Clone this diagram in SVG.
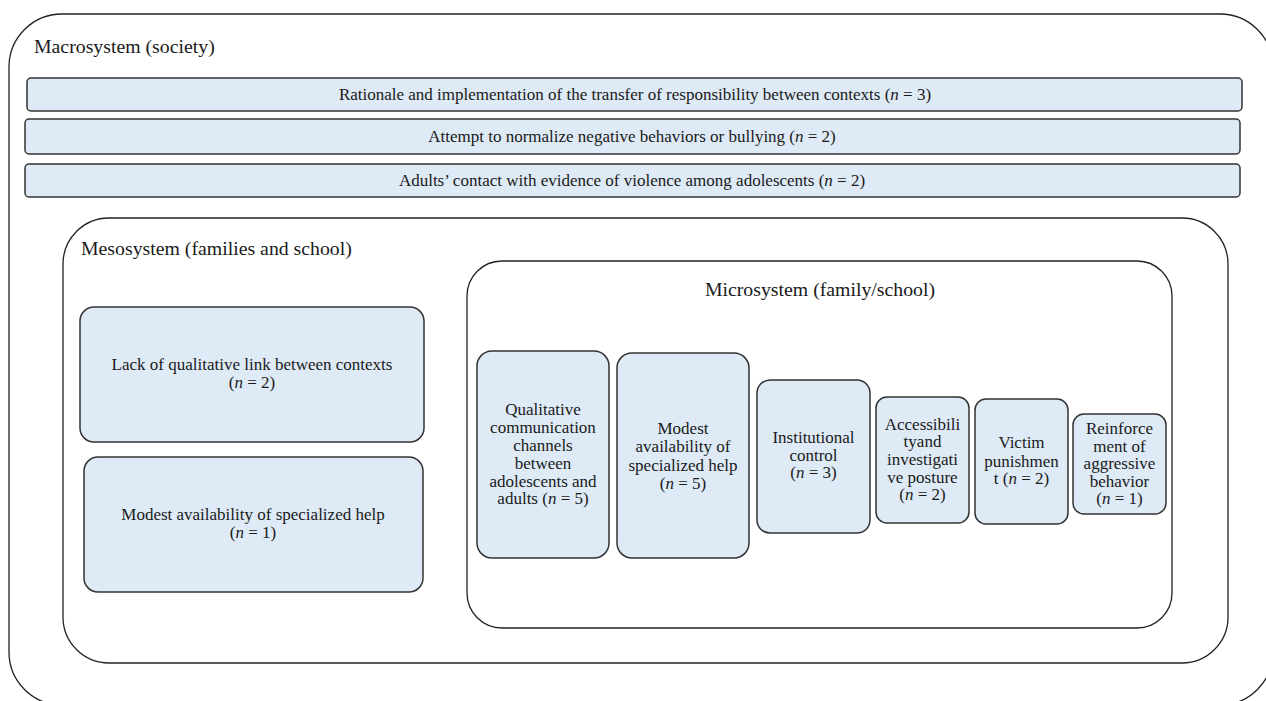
<svg xmlns="http://www.w3.org/2000/svg" width="1266" height="701" viewBox="0 0 1266 701">
<style>
  text { font-family: 'Liberation Serif', 'DejaVu Serif', serif; fill: #1a1a1a; }
  .frame { fill: none; stroke: #222; stroke-width: 1.3; }
  .box { fill: #deeaf6; stroke: #333; stroke-width: 1.5; }
  .lbl { font-size: 19.8px; }
  .row { font-size: 17px; text-anchor: middle; }
  .bt { font-size: 17px; text-anchor: middle; }
  .ttl { font-size: 19.8px; text-anchor: middle; }
  .i { font-style: italic; }
</style>
<rect width="1266" height="701" fill="#ffffff"/>
<g id="macrosystem">
  <rect class="frame" x="9" y="14" width="1264" height="691" rx="53"/>
  <text class="lbl" x="34" y="53">Macrosystem (society)</text>
</g>
<g id="row1">
  <rect class="box" x="27" y="78" width="1215" height="33" rx="4"/>
  <text class="row" x="635" y="100">Rationale and implementation of the transfer of responsibility between contexts (<tspan class="i">n</tspan> = 3)</text>
</g>
<g id="row2">
  <rect class="box" x="25" y="119" width="1215" height="35" rx="4"/>
  <text class="row" x="632" y="142">Attempt to normalize negative behaviors or bullying (<tspan class="i">n</tspan> = 2)</text>
</g>
<g id="row3">
  <rect class="box" x="25" y="164" width="1215" height="33" rx="4"/>
  <text class="row" x="632" y="186">Adults’ contact with evidence of violence among adolescents (<tspan class="i">n</tspan> = 2)</text>
</g>
<g id="mesosystem">
  <rect class="frame" x="63" y="218" width="1165" height="445" rx="46"/>
  <text class="lbl" x="81" y="255">Mesosystem (families and school)</text>
</g>
<g id="meso-a">
  <rect class="box" x="80" y="307" width="344" height="135" rx="14"/>
  <text class="bt" x="252" y="370">Lack of qualitative link between contexts</text>
  <text class="bt" x="252" y="388">(<tspan class="i">n</tspan> = 2)</text>
</g>
<g id="meso-b">
  <rect class="box" x="84" y="457" width="339" height="135" rx="14"/>
  <text class="bt" x="253" y="520">Modest availability of specialized help</text>
  <text class="bt" x="253" y="538">(<tspan class="i">n</tspan> = 1)</text>
</g>
<g id="microsystem">
  <rect class="frame" x="467" y="261" width="705" height="367" rx="35"/>
  <text class="ttl" x="820" y="296">Microsystem (family/school)</text>
</g>
<g id="micro-1">
  <rect class="box" x="477" y="351" width="132" height="207" rx="15"/>
  <text class="bt" x="543" y="415">Qualitative</text>
  <text class="bt" x="543" y="433">communication</text>
  <text class="bt" x="543" y="451">channels</text>
  <text class="bt" x="543" y="469">between</text>
  <text class="bt" x="543" y="487">adolescents and</text>
  <text class="bt" x="543" y="504">adults (<tspan class="i">n</tspan> = 5)</text>
</g>
<g id="micro-2">
  <rect class="box" x="617" y="353" width="132" height="205" rx="15"/>
  <text class="bt" x="683" y="434">Modest</text>
  <text class="bt" x="683" y="452">availability of</text>
  <text class="bt" x="683" y="471">specialized help</text>
  <text class="bt" x="683" y="489">(<tspan class="i">n</tspan> = 5)</text>
</g>
<g id="micro-3">
  <rect class="box" x="757" y="380" width="113" height="153" rx="13"/>
  <text class="bt" x="813.5" y="443">Institutional</text>
  <text class="bt" x="813.5" y="461">control</text>
  <text class="bt" x="813.5" y="478">(<tspan class="i">n</tspan> = 3)</text>
</g>
<g id="micro-4">
  <rect class="box" x="876" y="397" width="93" height="126" rx="11"/>
  <text class="bt" x="922.5" y="430">Accessibili</text>
  <text class="bt" x="922.5" y="447">tyand</text>
  <text class="bt" x="922.5" y="465">investigati</text>
  <text class="bt" x="922.5" y="483">ve posture</text>
  <text class="bt" x="922.5" y="500">(<tspan class="i">n</tspan> = 2)</text>
</g>
<g id="micro-5">
  <rect class="box" x="975" y="399" width="93" height="125" rx="11"/>
  <text class="bt" x="1021.5" y="448">Victim</text>
  <text class="bt" x="1021.5" y="467">punishmen</text>
  <text class="bt" x="1021.5" y="484">t (<tspan class="i">n</tspan> = 2)</text>
</g>
<g id="micro-6">
  <rect class="box" x="1073" y="414" width="93" height="100" rx="11"/>
  <text class="bt" x="1119.5" y="434">Reinforce</text>
  <text class="bt" x="1119.5" y="452">ment of</text>
  <text class="bt" x="1119.5" y="469">aggressive</text>
  <text class="bt" x="1119.5" y="487">behavior</text>
  <text class="bt" x="1119.5" y="504">(<tspan class="i">n</tspan> = 1)</text>
</g>
<g id="connectors"></g>
</svg>
